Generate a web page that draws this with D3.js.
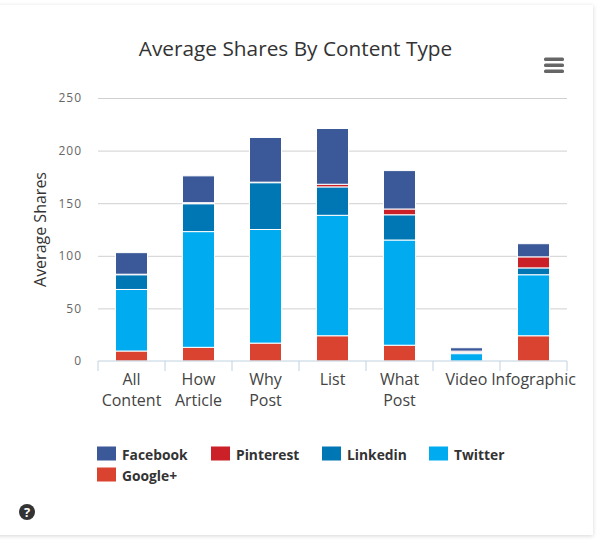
<!DOCTYPE html>
<html>
<head>
<meta charset="utf-8">
<title>Average Shares By Content Type</title>
<script src="https://cdnjs.cloudflare.com/ajax/libs/d3/7.8.5/d3.min.js"></script>
<style>
  html, body { margin: 0; padding: 0; background: #fff; }
  svg { display: block; font-family: "Open Sans", sans-serif; }
</style>
</head>
<body>
<div id="chart"></div>
<script>
const categories = ["All Content", "How Article", "Why Post", "List", "What Post", "Video", "Infographic"];
const seriesNames = ["Google+", "Twitter", "Linkedin", "Pinterest", "Facebook"];
const legendOrder = ["Facebook", "Pinterest", "Linkedin", "Twitter", "Google+"];
const googleValues = [9.5, 13, 17, 24, 15, 0, 24];
const twitterValues = [58.5, 110, 108, 114.5, 100, 7, 58];
const linkedinValues = [14, 26.5, 44.5, 27, 24, 1.2, 6.5];
const pinterestValues = [0.5, 1, 0.5, 2.5, 5.5, 1.2, 10.5];
const facebookValues = [20.5, 25.5, 42.5, 53, 36.5, 3.2, 12.5];
const yTicks = [0, 50, 100, 150, 200, 250];
const colors = ["#d9432f", "#00abf0", "#0077b5", "#cb2027", "#3b5998"];

const width = 600, height = 559;
const margin = { top: 98, right: 33, bottom: 198, left: 98 };
const chartWidth = width - margin.left - margin.right;
const chartHeight = height - margin.top - margin.bottom;

const svg = d3.select("#chart").append("svg")
  .attr("width", width)
  .attr("height", height);

// card with soft shadow
const defs = svg.append("defs");
const blur = defs.append("filter").attr("id", "shadow")
  .attr("x", "-5%").attr("y", "-5%").attr("width", "110%").attr("height", "110%");
blur.append("feDropShadow")
  .attr("dx", 0).attr("dy", 1).attr("stdDeviation", 2)
  .attr("flood-color", "#000").attr("flood-opacity", 0.16);

svg.append("rect")
  .attr("x", -10).attr("y", 5)
  .attr("width", 603).attr("height", 530)
  .attr("fill", "#fff")
  .attr("filter", "url(#shadow)");

svg.append("text")
  .attr("x", 295.5).attr("y", 56)
  .attr("text-anchor", "middle")
  .attr("fill", "#333")
  .style("font-size", "20.8px")
  .text("Average Shares By Content Type");

// Hamburger menu
svg.append("g").selectAll("rect")
  .data([0, 1, 2])
  .enter().append("rect")
  .attr("x", 544).attr("y", d => 57.5 + d * 6)
  .attr("width", 20).attr("height", 3.4)
  .attr("rx", 1.5)
  .attr("fill", "#666");

const g = svg.append("g")
  .attr("transform", `translate(${margin.left},${margin.top})`);

// Scales
const x = d3.scaleBand()
  .domain(categories)
  .range([0, chartWidth]);

const y = d3.scaleLinear()
  .domain([0, 250])
  .range([chartHeight, 0]);

// Gridlines and y axis
const yAxis = g.append("g")
  .call(d3.axisLeft(y).tickValues(yTicks).tickSize(-chartWidth).tickPadding(16));
yAxis.select(".domain").remove();
yAxis.selectAll(".tick line")
  .attr("stroke", "#d0d0d0")
  .attr("stroke-width", 1)
  .attr("display", d => d === 0 ? "none" : null);
yAxis.selectAll(".tick text")
  .attr("fill", "#666")
  .style("font-family", "'Open Sans', sans-serif")
  .style("font-size", "12px")
  .style("letter-spacing", "1px");

// Stacked bars
const table = categories.map((c, i) => ({
  category: c,
  "Google+": googleValues[i],
  "Twitter": twitterValues[i],
  "Linkedin": linkedinValues[i],
  "Pinterest": pinterestValues[i],
  "Facebook": facebookValues[i]
}));
const stacked = d3.stack().keys(seriesNames)(table);
const color = d3.scaleOrdinal().domain(seriesNames).range(colors);
const barWidth = 32;

g.selectAll(".series")
  .data(stacked)
  .enter().append("g")
  .attr("class", "series")
  .attr("fill", d => color(d.key))
  .selectAll("rect")
  .data(d => d)
  .enter().append("rect")
  .attr("x", d => x(d.data.category) + (x.bandwidth() - barWidth) / 2)
  .attr("y", d => y(d[1]))
  .attr("width", barWidth)
  .attr("height", d => y(d[0]) - y(d[1]))
  .attr("stroke", "#fff")
  .attr("stroke-width", 1);

// X axis with ticks on the band edges
const xAxis = g.append("g").attr("transform", `translate(0,${chartHeight})`);
xAxis.append("line")
  .attr("x1", 0).attr("x2", chartWidth)
  .attr("stroke", "#c0d0e0");
xAxis.selectAll(".edge")
  .data(categories.map(c => x(c)).concat([chartWidth]))
  .enter().append("line")
  .attr("class", "edge")
  .attr("x1", d => d).attr("x2", d => d)
  .attr("y1", 0).attr("y2", 10)
  .attr("stroke", "#c0d0e0");
const xLabels = xAxis.selectAll(".xlabel")
  .data(categories)
  .enter().append("text")
  .attr("class", "xlabel")
  .attr("text-anchor", "middle")
  .attr("fill", "#444")
  .style("font-size", "16px");
xLabels.selectAll("tspan")
  .data(d => d.split(" ").map(t => ({ t, c: d })))
  .enter().append("tspan")
  .attr("x", d => x(d.c) + x.bandwidth() / 2)
  .attr("y", (d, i) => 24 + i * 21)
  .text(d => d.t);

// Y Axis Label
svg.append("text")
  .attr("transform", "rotate(-90)")
  .attr("x", -229.5).attr("y", 46)
  .attr("text-anchor", "middle")
  .attr("fill", "#333")
  .style("font-size", "16px")
  .text("Average Shares");

// Legend
const legendCols = [97, 211, 322, 429];
const legend = svg.selectAll(".legend")
  .data(legendOrder)
  .enter().append("g")
  .attr("class", "legend")
  .attr("transform", (d, i) => `translate(${legendCols[i % 4]},${446.5 + Math.floor(i / 4) * 21})`);
legend.append("rect")
  .attr("width", 19).attr("height", 14)
  .attr("fill", d => color(d));
legend.append("text")
  .attr("x", 25).attr("y", 13)
  .attr("fill", "#333")
  .style("font-size", "13.8px")
  .style("font-weight", "700")
  .text(d => d);

// Help icon
const help = svg.append("g").attr("transform", "translate(27,512)");
help.append("circle").attr("r", 8).attr("fill", "#333");
help.append("text")
  .attr("y", 4.5)
  .attr("text-anchor", "middle")
  .attr("fill", "#fff")
  .style("font-size", "13px")
  .style("font-weight", "700")
  .text("?");
</script>
</body>
</html>
